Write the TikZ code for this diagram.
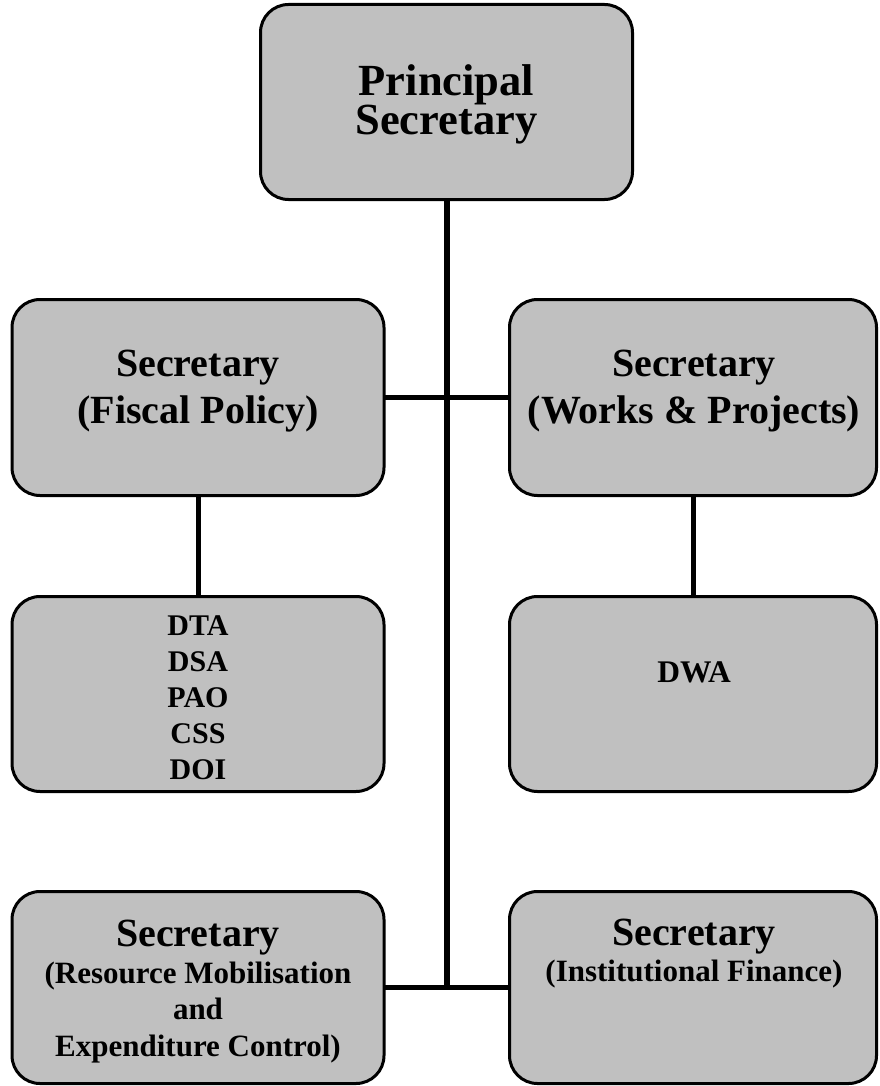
\documentclass[tikz,border=0pt]{standalone}
\usepackage{fontspec}
\setmainfont{Liberation Serif}
\definecolor{boxgray}{HTML}{C0C0C0}
\newcommand\mytightlines{\lineskiplimit=-1000pt\relax}
\tikzset{
  box/.style={draw=black, line width=3pt, fill=boxgray, rounded corners=28pt, inner sep=0pt, outer sep=0pt},
  txt/.style={anchor=base, align=center, inner sep=0pt, outer sep=0pt},
  conn/.style={draw=black, line width=5pt},
  trunk/.style={draw=black, line width=6pt},
}
\begin{document}
\begin{tikzpicture}[x=1pt,y=-1pt]
\useasboundingbox (0,0) rectangle (880,1086);
% boxes
\node[box, minimum width=372pt, minimum height=195pt] (top) at (446.5,102) {};
\node[box, minimum width=372pt, minimum height=196pt] (fisc) at (198,397.5) {};
\node[box, minimum width=367pt, minimum height=196pt] (works) at (693,397.5) {};
\node[box, minimum width=372pt, minimum height=195pt] (dirs) at (198,694) {};
\node[box, minimum width=367pt, minimum height=195pt] (dwa) at (693,694) {};
\node[box, minimum width=372pt, minimum height=192pt] (rmec) at (198,987.5) {};
\node[box, minimum width=367pt, minimum height=192pt] (inst) at (693,987.5) {};
% connectors
\coordinate (j) at (top.south |- rmec.east);
\draw[trunk] (top.south) -- (j);
\draw[conn] (fisc.east) -- (works.west);
\draw[conn] (fisc.south) -- (dirs.north);
\draw[conn] (works.south) -- (dwa.north);
\draw[conn] (rmec.east) -- (inst.west);
% texts (anchor base = baseline of the last line)
\node[txt, font={\bfseries\fontsize{44.5}{39}\selectfont\mytightlines}] (tps) at (446.5,135) {Principal\\Secretary};
\node[txt, font={\bfseries\fontsize{40}{46.5}\selectfont}] (tfisc) at (198,423) {Secretary\\(Fiscal Policy)};
\node[txt, font={\bfseries\fontsize{40}{46.5}\selectfont}] (tworks) at (694,423) {Secretary\\(Works \& Projects)};
\node[txt, font={\bfseries\fontsize{30}{36}\selectfont}] (tdirs) at (198,779) {DTA\\DSA\\PAO\\CSS\\DOI};
\node[txt, font={\bfseries\fontsize{31.5}{36}\selectfont}] (tdwa) at (694,682.7) {DWA};
\node[txt, font={\bfseries\fontsize{31}{36.8}\selectfont}] (trmec) at (198,1056.7) {{\fontsize{40}{36.8}\selectfont Secretary}\\(Resource Mobilisation\\and\\Expenditure Control)};
\node[txt, font={\bfseries\fontsize{31}{36.7}\selectfont}] (tinst) at (694,981.7) {{\fontsize{40}{36.7}\selectfont Secretary}\\(Institutional Finance)};
\end{tikzpicture}
\end{document}
